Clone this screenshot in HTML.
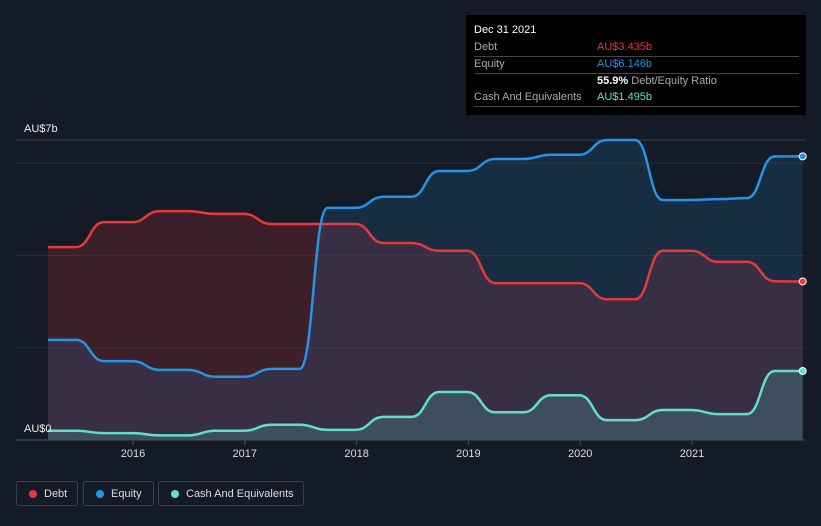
<!DOCTYPE html>
<html><head><meta charset="utf-8"><style>
body{margin:0;background:#151b26;font-family:"Liberation Sans",sans-serif;}
#wrap{position:relative;width:821px;height:526px;overflow:hidden;background:#151b26;}
.tt{position:absolute;left:466px;top:15px;width:340px;height:100px;background:#000;color:#fff;font-size:11px;}
.tt .row{position:absolute;left:8px;width:325px;border-bottom:1px solid #444;height:16px;}
.lg{position:absolute;top:481px;height:25px;border:1px solid #3a4150;border-radius:3px;color:#ddd;font-size:11px;line-height:25px;box-sizing:border-box;padding-left:27px;}
.lg i{position:absolute;left:12px;top:8px;width:8px;height:8px;border-radius:50%;}
</style></head><body>
<div id="wrap">
<svg id="chart" width="821" height="526" style="position:absolute;left:0;top:0"></svg>
<div class="tt">
 <div style="position:absolute;left:8px;top:9px;font-size:11px">Dec 31 2021</div>
 <div class="row" style="top:25px"><span style="color:#aaa;position:absolute;top:1px">Debt</span><span style="color:#e5393b;position:absolute;left:123px;top:1px">AU$3.435b</span></div>
 <div class="row" style="top:42px"><span style="color:#aaa;position:absolute;top:1px">Equity</span><span style="color:#2394e6;position:absolute;left:123px;top:1px">AU$6.146b</span></div>
 <div style="position:absolute;left:131px;top:60px"><b>55.9%</b> <span style="color:#aaa">Debt/Equity Ratio</span></div>
 <div class="row" style="top:75px"><span style="color:#aaa;position:absolute;top:1px">Cash And Equivalents</span><span style="color:#5fe0cc;position:absolute;left:123px;top:1px">AU$1.495b</span></div>
</div>
<div class="lg" style="left:16px;width:62px"><i style="background:#e5393b"></i>Debt</div>
<div class="lg" style="left:83px;width:71px"><i style="background:#2394e6"></i>Equity</div>
<div class="lg" style="left:158px;width:146px"><i style="background:#5fe0cc"></i>Cash And Equivalents</div>
</div>
<script>
const startYear = 2015.24;
const stepYears = 0.25;
const debt = [4.18,4.18,4.72,4.72,4.96,4.96,4.9,4.9,4.68,4.68,4.68,4.68,4.27,4.27,4.1,4.1,3.4,3.4,3.4,3.4,3.05,3.05,4.1,4.1,3.86,3.86,3.44,3.435];
const equity = [2.17,2.17,1.71,1.71,1.52,1.52,1.37,1.37,1.54,1.54,5.03,5.03,5.27,5.27,5.83,5.83,6.09,6.09,6.18,6.18,6.5,6.5,5.2,5.2,5.22,5.24,6.146,6.146];
const cash = [0.2,0.2,0.15,0.15,0.1,0.1,0.2,0.2,0.33,0.33,0.22,0.22,0.5,0.5,1.04,1.04,0.6,0.6,0.97,0.97,0.43,0.43,0.65,0.65,0.56,0.56,1.495,1.495];
const yearTicks = [2016,2017,2018,2019,2020,2021];
const gridVals = [2,4,6];

const NS="http://www.w3.org/2000/svg";
const svg=document.getElementById('chart');
const X=yr=>133+(yr-2016)*111.8;
const Y=v=>440-v*46.15;
function el(t,a){const e=document.createElementNS(NS,t);for(const k in a)e.setAttribute(k,a[k]);svg.appendChild(e);return e;}
function pathD(arr){let d='';arr.forEach((v,i)=>{const x=X(startYear+i*stepYears),y=Y(v);if(i==0)d='M'+x+','+y;else{const px=X(startYear+(i-1)*stepYears),py=Y(arr[i-1]),mx=(px+x)/2;d+=' C'+mx+','+py+' '+mx+','+y+' '+x+','+y;}});return d;}
const x0=X(startYear), x1=X(startYear+(debt.length-1)*stepYears);
let g=el('line',{x1:16,x2:805,y1:140,y2:140,stroke:'#3a404c','stroke-width':1});

gridVals.forEach(v=>{const l=el('line',{x1:16,x2:805,y1:Y(v),y2:Y(v),stroke:'#262c38','stroke-width':1});

});
function area(arr,fill,name){const a=el('path',{d:pathD(arr)+' L'+x1+','+Y(0)+' L'+x0+','+Y(0)+'Z',fill:fill});

}
area(debt,'rgba(200,45,50,0.22)','debt-area');
area(equity,'rgba(40,130,210,0.17)','equity-area');
area(cash,'rgba(95,224,204,0.18)','cash-area');
function line(arr,col,name){const p=el('path',{d:pathD(arr),fill:'none',stroke:col,'stroke-width':2.5});


const c=el('circle',{cx:x1,cy:Y(arr[arr.length-1]),r:3.5,fill:col,stroke:'#fff','stroke-width':1});

}
line(debt,'#e5393b','debt-line');
line(equity,'#2394e6','equity-line');
line(cash,'#5fe0cc','cash-line');
const ax=el('line',{x1:16,x2:805,y1:440,y2:440,stroke:'#4a505c','stroke-width':1});

yearTicks.forEach(yr=>{const t=el('line',{x1:X(yr),x2:X(yr),y1:440,y2:445,stroke:'#4a505c'});


const tx=el('text',{x:X(yr),y:457,fill:'#ddd','font-size':11,'text-anchor':'middle','font-family':'Liberation Sans, sans-serif'});tx.textContent=yr;

});
const t7=el('text',{x:24,y:132,fill:'#eee','font-size':11,'font-family':'Liberation Sans, sans-serif'});t7.textContent='AU$7b';

const t0=el('text',{x:24,y:432,fill:'#eee','font-size':11,'font-family':'Liberation Sans, sans-serif'});t0.textContent='AU$0';

</script>
</body></html>
